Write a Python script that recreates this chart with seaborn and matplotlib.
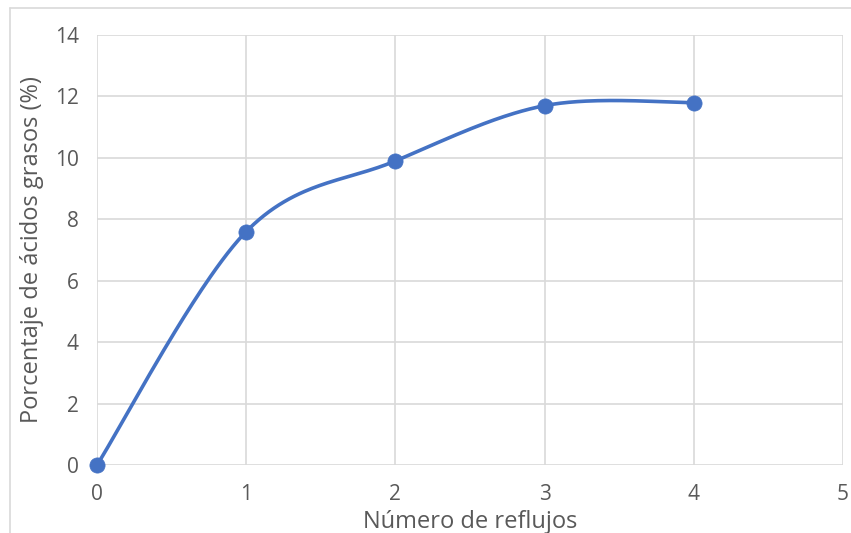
import numpy as np
import pandas as pd
import matplotlib
matplotlib.use("Agg")
import matplotlib.pyplot as plt
import seaborn as sns

# Data
refluxes = [0, 1, 2, 3, 4]
fatty_acids = [0.0, 7.6, 9.9, 11.7, 11.8]
x_ticks = [0, 1, 2, 3, 4, 5]
y_ticks = [0, 2, 4, 6, 8, 10, 12, 14]

BLUE = "#4472C4"
GRID = "#d9d9d9"
TEXT = "#595959"

sns.set_theme(style="white")
plt.rcParams["font.family"] = ["Open Sans", "DejaVu Sans"]

df = pd.DataFrame({"x": refluxes, "y": fatty_acids})


def smooth_curve(xs, ys, n=60):
    """Cubic Bezier smoothing through the points (Catmull-Rom style)."""
    P = np.column_stack([xs, ys]).astype(float)
    P_ext = np.vstack([P[0], P, P[-1]])
    t = np.linspace(0, 1, n)[:, None]
    out = []
    for i in range(len(P) - 1):
        p0, p1, p2, p3 = P_ext[i], P_ext[i + 1], P_ext[i + 2], P_ext[i + 3]
        c1 = p1 + (p2 - p0) / 6.0
        c2 = p2 - (p3 - p1) / 6.0
        seg = ((1 - t) ** 3) * p1 + 3 * ((1 - t) ** 2) * t * c1 \
            + 3 * (1 - t) * t ** 2 * c2 + t ** 3 * p2
        out.append(seg if i == 0 else seg[1:])
    curve = np.vstack(out)
    return pd.DataFrame({"x": curve[:, 0], "y": curve[:, 1]})


curve = smooth_curve(df["x"], df["y"])

fig = plt.figure(figsize=(8.51, 5.33), dpi=100)
ax = fig.add_axes([0.114, 0.1276, 0.8766, 0.8067])

sns.lineplot(data=curve, x="x", y="y", ax=ax, color=BLUE, linewidth=2.6,
             sort=False, estimator=None, zorder=3)
sns.scatterplot(data=df, x="x", y="y", ax=ax, color=BLUE, s=120,
                edgecolor=BLUE, linewidth=0.5, zorder=4, clip_on=False)
for ln in ax.lines:
    ln.set_clip_on(False)

ax.set_xlim(0, 5)
ax.set_ylim(0, 14)
ax.set_xticks(x_ticks)
ax.set_yticks(y_ticks)
ax.set_xticklabels([str(v) for v in x_ticks])
ax.set_yticklabels([str(v) for v in y_ticks])
ax.grid(True, color=GRID, linewidth=1.2)
ax.set_axisbelow(True)
for s in ax.spines.values():
    s.set_visible(False)
ax.tick_params(axis="both", length=0, labelsize=15, colors=TEXT)
ax.tick_params(axis="x", pad=14)
ax.tick_params(axis="y", pad=13)

ax.set_xlabel("Número de reflujos", fontsize=17, color=TEXT, labelpad=3)
ax.set_ylabel("Porcentaje de ácidos grasos (%)", fontsize=17, color=TEXT,
              labelpad=8)

# Chart-area frame (left and top edges)
fig.add_artist(plt.Line2D([0.0118, 0.0118], [0.0, 0.985], color=GRID,
                          linewidth=1.2, transform=fig.transFigure))
fig.add_artist(plt.Line2D([0.0118, 1.0], [0.985, 0.985], color=GRID,
                          linewidth=1.2, transform=fig.transFigure))

fig.savefig("out.png", dpi=100)
